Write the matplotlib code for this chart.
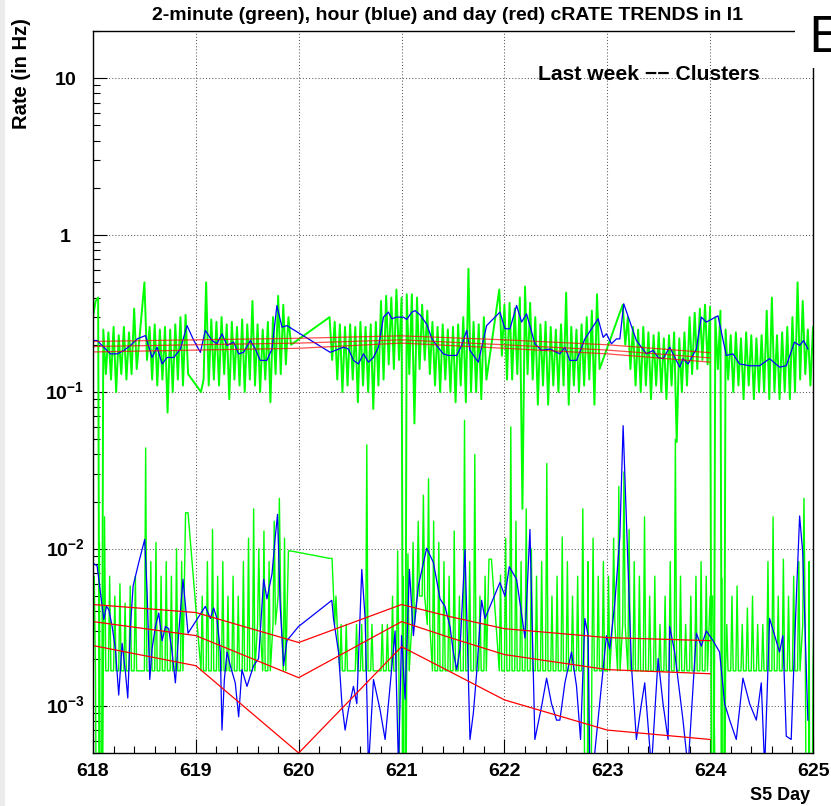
import numpy as np
import matplotlib
matplotlib.use("Agg")
import matplotlib.pyplot as plt
import matplotlib.ticker as ticker
from matplotlib.patches import Rectangle

plt.rcParams["font.family"] = ["Liberation Sans", "DejaVu Sans"]
plt.rcParams["mathtext.fontset"] = "custom"
plt.rcParams["mathtext.rm"] = "Liberation Sans"
plt.rcParams["mathtext.bf"] = "Liberation Sans:bold"

nan = np.nan
F = 0.00167   # one cluster per 10 min (floor of the 2-minute trend)
Z = 1e-6      # zero rate -> line goes off the bottom of the log axis

# envelope of the 2-minute (green) trends, read every 0.05 day
day_grid = np.round(np.arange(618.0, 625.001, 0.05), 3)

green_up_hi = [
    0.30, 0.40, 0.25, 0.24, 0.26, 0.23, 0.26, 0.24, 0.34, nan, 0.50, 0.26, 0.27, 0.25, 0.26, 0.25, 0.27, 0.30, 0.31, nan,
    nan, 0.10, 0.50, 0.29, 0.28, 0.30, 0.27, 0.28, 0.26, 0.29, 0.27, 0.38, 0.27, 0.25, 0.28, 0.30, 0.41, 0.36, 0.30, nan,
    nan, nan, nan, nan, nan, nan, 0.30, 0.28, 0.27, 0.26, 0.27, 0.26, 0.28, 0.26, 0.27, 0.28, 0.38, 0.41, 0.40, 0.45,
    0.40, 0.42, 0.42, 0.40, 0.36, 0.33, 0.28, 0.26, 0.27, 0.25, 0.26, 0.27, 0.30, 0.61, 0.28, 0.27, 0.30, nan, nan, 0.45,
    0.36, 0.37, 0.34, 0.40, 0.47, 0.37, 0.30, 0.27, 0.28, 0.26, 0.25, 0.27, 0.43, 0.26, 0.25, 0.27, 0.30, 0.33, 0.42, nan,
    nan, nan, nan, 0.36, 0.30, 0.26, 0.25, 0.26, 0.24, 0.23, 0.24, 0.22, 0.23, 0.24, 0.22, 0.24, 0.30, 0.32, 0.34, 0.36,
    0.35, 0.30, 0.33, 0.25, 0.23, 0.24, 0.22, 0.24, 0.23, 0.22, 0.23, 0.33, 0.40, 0.23, 0.24, 0.26, 0.30, 0.50, 0.38, 0.25, 0.26,
]
green_up_lo = [
    0.38, Z, 0.13, 0.12, 0.10, 0.13, 0.12, 0.13, 0.14, nan, 0.16, 0.12, 0.11, 0.12, 0.074, 0.10, 0.12, 0.11, 0.13, nan,
    nan, 0.12, 0.11, 0.12, 0.11, 0.13, 0.09, 0.12, 0.11, 0.10, 0.12, 0.11, 0.10, 0.12, 0.086, 0.13, 0.13, 0.15, 0.20, nan,
    nan, nan, nan, nan, nan, nan, 0.16, 0.12, 0.10, 0.11, 0.12, 0.086, 0.11, 0.10, 0.078, 0.11, 0.12, 0.15, 0.14, 0.16,
    Z, 0.13, 0.063, 0.14, 0.16, 0.13, 0.11, 0.10, 0.12, 0.10, 0.086, 0.11, 0.086, 0.10, 0.10, 0.09, 0.12, nan, nan, 0.17,
    0.12, 0.12, 0.13, 0.018, 0.13, 0.12, 0.083, 0.11, 0.083, 0.11, 0.10, 0.11, 0.083, 0.11, 0.10, 0.11, 0.12, 0.083, 0.14, nan,
    nan, nan, nan, 0.20, 0.14, 0.11, 0.10, 0.11, 0.09, 0.11, 0.10, 0.09, 0.11, 0.048, 0.10, 0.11, 0.13, 0.14, 0.16, 0.15,
    Z, 0.14, Z, 0.12, 0.10, 0.11, 0.09, 0.11, 0.09, 0.10, 0.10, 0.09, 0.10, 0.09, 0.10, 0.09, 0.10, 0.12, 0.13, 0.11, 0.13,
]
green_lo_hi = [
    0.0067, 0.011, 0.016, 0.0067, 0.005, 0.006, 0.0045, 0.0058, 0.0067, nan, 0.044, 0.0083, 0.011, 0.0067, 0.0083, 0.0067, 0.01, 0.0083, 0.017, nan,
    nan, 0.005, 0.0083, 0.0133, 0.0067, 0.0083, 0.005, 0.0067, 0.005, 0.0083, 0.0117, 0.018, 0.01, 0.013, 0.0083, 0.015, 0.021, 0.0117, 0.0097, nan,
    nan, nan, nan, nan, nan, nan, 0.0087, 0.005, 0.0033, 0.0033, F, 0.0033, 0.0033, 0.046, 0.0033, F, 0.0033, 0.0033, 0.005, 0.0097,
    0.0067, 0.0093, 0.011, 0.015, 0.022, 0.028, 0.015, 0.011, 0.0083, 0.0067, 0.013, 0.005, 0.066, 0.0083, 0.04, 0.005, 0.0067, 0.0086, nan, 0.0068,
    0.0117, 0.06, 0.015, 0.0083, 0.018, 0.01, 0.0067, 0.0083, 0.035, 0.005, 0.0067, 0.0119, 0.0083, 0.005, 0.0067, 0.018, 0.0083, 0.0117, 0.0067, 0.0083,
    0.0067, 0.0117, 0.025, 0.031, 0.0133, 0.0083, 0.0067, 0.016, 0.005, 0.0067, 0.0033, 0.005, 0.0083, 0.05, 0.0067, 0.0033, 0.005, 0.0067, 0.0083, 0.0067,
    0.005, nan, 0.0065, 0.0033, 0.005, 0.0058, 0.0033, 0.0042, 0.005, 0.0033, 0.0033, 0.0083, 0.016, 0.005, 0.0086, 0.005, 0.0067, 0.0083, 0.021, 0.0083, 0.005,
]
green_lo_lo = [
    F, Z, F, F, F, F, F, F, F, nan, F, F, F, F, F, F, F, F, 0.017, nan,
    nan, F, F, F, F, F, F, F, F, F, F, F, 0.0033, F, F, 0.0033, 0.005, F, 0.0097, nan,
    nan, nan, nan, nan, nan, nan, 0.0087, 0.0033, F, F, F, F, F, F, F, F, F, F, F, F,
    Z, F, 0.0033, 0.005, 0.005, 0.0033, F, F, F, F, F, F, F, F, F, F, F, 0.0086, nan, F,
    F, F, F, F, F, F, F, F, F, F, F, F, F, F, F, F, Z, F, F, F,
    F, 0.0033, F, 0.0033, F, F, F, F, F, F, F, F, F, F, F, F, F, F, F, F,
    0.005, nan, Z, F, F, F, F, F, F, F, F, F, F, F, F, F, F, F, 0.0033, Z, F,
]

# hourly (blue) trends
blue_up_day = [
    618.00, 618.04, 618.105, 618.17, 618.235, 618.30, 618.364, 618.43, 618.51, 618.574,
    618.623, 618.672, 618.72, 618.785, 618.85, 618.914, 618.98, 619.044, 619.092, 619.157,
    619.205, 619.254, 619.303, 619.367, 619.416, 619.464, 619.53, 619.578, 619.626, 619.69,
    619.74, 619.788, 619.837, 619.885, 620.306, 620.435, 620.484, 620.532, 620.58, 620.63,
    620.678, 620.726, 620.775, 620.824, 620.872, 620.905, 620.953, 621.018, 621.05, 621.10,
    621.131, 621.18, 621.245, 621.293, 621.34, 621.406, 621.455, 621.536, 621.584, 621.633,
    621.665, 621.746, 621.827, 621.956, 622.005, 622.054, 622.118, 622.167, 622.215, 622.296,
    622.361, 622.442, 622.539, 622.588, 622.636, 622.701, 622.782, 622.911, 622.96, 622.992,
    623.04, 623.089, 623.122, 623.16, 623.283, 623.38, 623.445, 623.494, 623.542, 623.607,
    623.704, 623.736, 623.785, 623.866, 623.914, 623.963, 624.076, 624.157, 624.222, 624.286,
    624.384, 624.48, 624.578, 624.675, 624.74, 624.82, 624.87, 624.908, 624.95,
]
blue_up_rate = [
    0.213, 0.213, 0.193, 0.175, 0.175, 0.184, 0.198, 0.218, 0.229, 0.166,
    0.193, 0.151, 0.166, 0.166, 0.188, 0.265, 0.213, 0.179, 0.247, 0.213,
    0.203, 0.235, 0.198, 0.208, 0.175, 0.179, 0.213, 0.188, 0.159, 0.159,
    0.188, 0.356, 0.259, 0.265, 0.179, 0.193, 0.188, 0.159, 0.151, 0.175,
    0.155, 0.166, 0.193, 0.300, 0.323, 0.293, 0.300, 0.300, 0.290, 0.323,
    0.330, 0.310, 0.270, 0.220, 0.198, 0.175, 0.171, 0.171, 0.198, 0.247,
    0.184, 0.155, 0.265, 0.323, 0.253, 0.253, 0.356, 0.279, 0.315, 0.203,
    0.184, 0.188, 0.175, 0.193, 0.159, 0.159, 0.218, 0.293, 0.223, 0.235,
    0.203, 0.218, 0.218, 0.365, 0.213, 0.175, 0.184, 0.166, 0.163, 0.193,
    0.144, 0.163, 0.151, 0.188, 0.300, 0.279, 0.306, 0.171, 0.175, 0.151,
    0.147, 0.147, 0.163, 0.144, 0.147, 0.208, 0.198, 0.213, 0.188,
]
blue_lo_day = [
    618.00, 618.04, 618.073, 618.105, 618.131, 618.154, 618.186, 618.218, 618.25, 618.283,
    618.316, 618.338, 618.364, 618.39, 618.445, 618.503, 618.526, 618.552, 618.574, 618.607,
    618.639, 618.672, 618.704, 618.736, 618.769, 618.801, 618.833, 618.875, 618.924, 619.092,
    619.141, 619.173, 619.205, 619.238, 619.254, 619.277, 619.303, 619.335, 619.383, 619.416,
    619.448, 619.497, 619.561, 619.61, 619.659, 619.691, 619.74, 619.772, 619.794, 619.82,
    619.853, 619.885, 619.998, 620.322, 620.338, 620.387, 620.42, 620.451, 620.484, 620.532,
    620.565, 620.613, 620.646, 620.678, 620.727, 620.79, 620.84, 620.888, 620.937, 620.97,
    621.0, 621.034, 621.076, 621.115, 621.163, 621.244, 621.309, 621.374, 621.422,
    621.471, 621.503, 621.536, 621.568, 621.617, 621.665, 621.698, 621.73, 621.778, 621.811,
    621.86, 621.956, 622.005, 622.047, 622.118, 622.2, 622.248, 622.296, 622.361, 622.41,
    622.458, 622.507, 622.539, 622.588, 622.652, 622.701, 622.74, 622.782, 622.814, 622.83,
    622.863, 622.992, 623.024, 623.073, 623.122, 623.154, 623.186, 623.235, 623.283, 623.332,
    623.364, 623.429, 623.494, 623.542, 623.591, 623.607, 623.655, 623.704, 623.736, 623.785,
    623.866, 623.914, 623.963, 624.028, 624.092, 624.141, 624.19, 624.254, 624.319, 624.384,
    624.449, 624.497, 624.53, 624.578, 624.627, 624.675, 624.707, 624.74, 624.788, 624.837,
    624.87, 624.9, 624.95,
]
blue_lo_rate = [
    0.0081, 0.0078, 0.00525, 0.00355, 0.0043, 0.0041, 0.0032, 0.0023, 0.00117, 0.0025,
    0.00162, 0.00112, 0.0032, 0.0058, 0.0082, 0.0115, 0.0053, 0.00147, 0.0023, 0.0032,
    0.0039, 0.0026, 0.0032, 0.0031, 0.0022, 0.0014, 0.0029, 0.0064, 0.0029, 0.0043,
    0.0036, 0.0042, 0.0036, 0.0022, 0.0007, 0.00147, 0.0022, 0.0018, 0.0014, 0.00085,
    0.0017, 0.00133, 0.0018, 0.002, 0.0064, 0.0048, 0.0069, 0.0119, 0.0166, 0.0043,
    0.0018, 0.0026, 0.0032, 0.0047, 0.0036, 0.0022, 0.00103, 0.0007, 0.00095, 0.00133,
    0.00103, 0.0074, 0.0036, 0.0004, 0.00147, 0.00095, 0.00061, 0.00133, 0.0030, 0.0004,
    0.0028, 0.0011, 0.0074, 0.0028, 0.0058, 0.0101, 0.0082, 0.0048, 0.0043,
    0.0032, 0.0022, 0.0017, 0.0023, 0.0099, 0.00061, 0.0009, 0.00162, 0.0047, 0.0036,
    0.0043, 0.0061, 0.005, 0.0077, 0.0064, 0.0027, 0.0133, 0.00061, 0.00099, 0.0015,
    0.00103, 0.00081, 0.00081, 0.0014, 0.0022, 0.00133, 0.00061, 0.0036, 0.0028, 0.0004,
    0.0004, 0.0028, 0.0023, 0.0045, 0.0119, 0.061, 0.0154, 0.0018, 0.00061, 0.00103,
    0.0014, 0.0004, 0.002, 0.00103, 0.00061, 0.0032, 0.0022, 0.0012, 0.00081, 0.0004,
    0.0029, 0.0024, 0.003, 0.0026, 0.0022, 0.00103, 0.00081, 0.00061, 0.0015, 0.00103,
    0.00081, 0.0014, 0.0004, 0.0036, 0.0028, 0.0022, 0.0028, 0.00064, 0.00061, 0.0047,
    0.0162, 0.0095, 0.00081,
]

# daily (red) trends, three lines per band
red_up_day = [618, 619, 620, 621, 622, 623, 624]
red_up_a = [0.210, 0.215, 0.220, 0.228, 0.215, 0.200, 0.178]
red_up_b = [0.195, 0.200, 0.205, 0.215, 0.200, 0.185, 0.165]
red_up_c = [0.180, 0.185, 0.190, 0.205, 0.190, 0.175, 0.155]
red_lo_day = [618, 619, 620, 621, 621.47, 622, 623, 624]
red_lo_a = [0.00442, 0.00393, 0.00253, 0.00442, 0.0037, 0.0031, 0.00272, 0.0026]
red_lo_b = [0.00344, 0.0028, 0.00151, 0.00344, 0.00272, 0.00212, 0.0017, 0.0016]
red_lo_c = [0.00242, 0.0018, 0.0005, 0.00238, 0.00165, 0.00109, 0.0007, 0.00061]

x_ticks = [618, 619, 620, 621, 622, 623, 624, 625]
y_ticks = [10, 1, 0.1, 0.01, 0.001]
y_tick_labels = [r"$\mathbf{10}$", r"$\mathbf{1}$", r"$\mathbf{10^{-1}}$",
                 r"$\mathbf{10^{-2}}$", r"$\mathbf{10^{-3}}$"]


def dense_zigzag(hi, lo):
    xs, ys = [], []
    for t, h, l in zip(day_grid, hi, lo):
        if np.isnan(h) or np.isnan(l):
            continue
        xs += [t, t + 0.025]
        ys += [h, l]
    return xs, ys


def spike_zigzag(hi, lo):
    xs, ys = [], []
    for t, h, l in zip(day_grid, hi, lo):
        if np.isnan(h) or np.isnan(l):
            continue
        xs += [t, t + 0.012, t + 0.024]
        ys += [l, h, l]
    return xs, ys


W, H = 831, 806
fig = plt.figure(figsize=(W / 100, H / 100), dpi=100)
ax = fig.add_axes([93 / W, 1 - 753 / H, 720 / W, 722 / H])

green = (0, 1, 0)
gx, gy = dense_zigzag(green_up_hi, green_up_lo)
ax.plot(gx, gy, color=green, lw=1.4)
gx, gy = spike_zigzag(green_lo_hi, green_lo_lo)
ax.plot(gx, gy, color=green, lw=1.0)

ax.plot(blue_up_day, blue_up_rate, color=(0, 0, 1), lw=0.9)
ax.plot(blue_lo_day, blue_lo_rate, color=(0, 0, 1), lw=0.9)

for r in (red_up_a, red_up_b, red_up_c):
    ax.plot(red_up_day, r, color=(1, 0, 0), lw=0.9, alpha=0.7)
for r in (red_lo_a, red_lo_b, red_lo_c):
    ax.plot(red_lo_day, r, color=(1, 0, 0), lw=0.9)

ax.set_yscale("log")
ax.set_xlim(618, 625)
ax.set_ylim(5e-4, 20)

ax.set_xticks(x_ticks, labels=[str(d) for d in x_ticks])
ax.xaxis.set_minor_locator(ticker.MultipleLocator(0.2))
ax.yaxis.set_major_locator(ticker.FixedLocator(y_ticks))
ax.yaxis.set_minor_locator(ticker.LogLocator(base=10, subs=np.arange(2, 10)))
ax.yaxis.set_minor_formatter(ticker.NullFormatter())

ax.tick_params(which="both", direction="in", top=False, right=False,
               color="k", width=0.8)
ax.tick_params(which="major", length=10)
ax.tick_params(which="minor", length=5)
ax.tick_params(axis="x", pad=7, labelsize=14)
ax.tick_params(axis="y", labelleft=False)
for lbl in ax.get_xticklabels():
    lbl.set_fontweight("bold")

for v, s in zip(y_ticks, y_tick_labels):
    ax.annotate(s, xy=(0, v), xycoords=("axes fraction", "data"),
                xytext=(-28, -7), textcoords="offset pixels",
                ha="center", va="baseline", fontsize=14)

ax.grid(True, which="major", color="0.35", lw=0.75, ls=(0, (1, 2)))
for sp in ax.spines.values():
    sp.set_linewidth(1.0)
    sp.set_color("k")

fig.text(448 / W, 1 - 16 / H,
         "2-minute (green), hour (blue) and day (red) cRATE TRENDS in I1",
         ha="center", va="center", fontsize=14, fontweight="bold")
fig.text(22 / W, 1 - 18 / H, "Rate (in Hz)", rotation=90,
         ha="center", va="top", fontsize=14.5, fontweight="bold")
fig.text(649 / W, 1 - 74 / H, "Last week \u2212\u2212 Clusters",
         ha="center", va="center", fontsize=15.2, fontweight="bold")
fig.text(810 / W, 1 - 795 / H, "S5 Day", ha="right", va="center",
         fontsize=13, fontweight="bold")

# the cut-off "E" in the top right corner sits on a white box
fig.add_artist(Rectangle((795 / W, 1 - 68 / H), 36 / W, 68 / H,
                         transform=fig.transFigure, facecolor="white",
                         edgecolor="none", zorder=11))
fig.text(808 / W, 1 - 52 / H, "E", family="DejaVu Sans", fontsize=35,
         ha="left", va="baseline", zorder=12)
fig.add_artist(Rectangle((0, 0), 5 / W, 1, transform=fig.transFigure,
                         facecolor="0.92", edgecolor="none", zorder=11))

fig.savefig("out.png", dpi=100)
